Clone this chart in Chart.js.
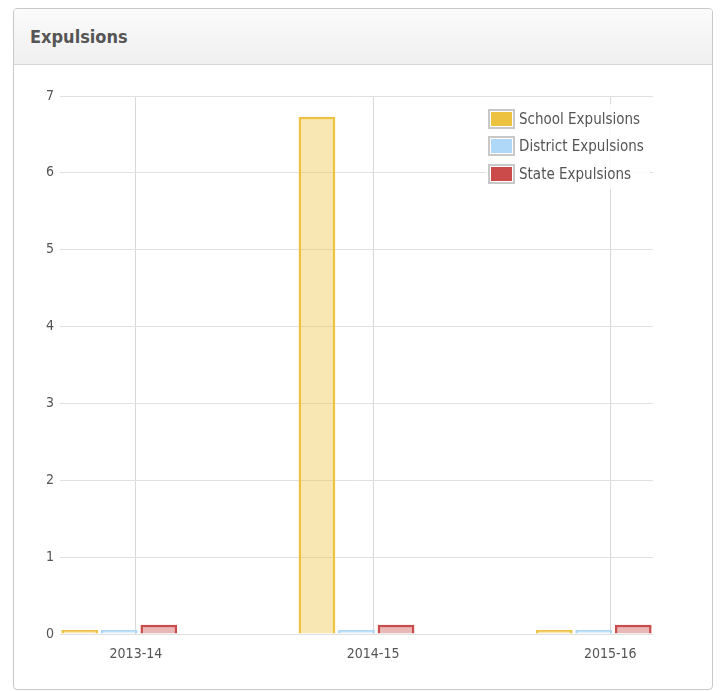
<!DOCTYPE html>
<html>
<head>
<meta charset="utf-8">
<script src="https://cdn.jsdelivr.net/npm/chart.js@4.4.1/dist/chart.umd.min.js"></script>
<style>
  body { margin: 0; background: #fff; font-family: "DejaVu Sans Condensed", "DejaVu Sans", sans-serif; }
  .panel { position: absolute; left: 13px; top: 8px; width: 698px; height: 680px; border: 1px solid #c8c8c8; border-radius: 4px; background: #fff; overflow: hidden; }
  .panel-head { height: 55px; border-bottom: 1px solid #d6d6d6; background: linear-gradient(#fbfbfb, #efefef); }
  .panel-head h3 { margin: 0; padding: 17px 0 0 16px; font-size: 18px; font-weight: bold; color: #555; line-height: 22px; }
  .chart-box { position: absolute; left: 0; top: 56px; width: 698px; height: 624px; }
  #legend { position: absolute; left: 472px; top: 95px; background: rgba(255,255,255,0.85); padding: 1px 6px 1px 2px; }
  .leg-row { display: flex; align-items: center; height: 27.5px; }
  .leg-box { width: 21px; height: 14px; border: 2px solid #c8c8c8; padding: 1px; background: #fff; margin-right: 4px; }
  .leg-box div { width: 100%; height: 100%; }
  .leg-text { font-size: 15px; color: #545454; }
</style>
</head>
<body>
<div class="panel">
  <div class="panel-head"><h3>Expulsions</h3></div>
  <div class="chart-box"><canvas id="chart"></canvas></div>
  <div id="legend"></div>
</div>
<script>
const categories = ["2013-14", "2014-15", "2015-16"];
const seriesNames = ["School Expulsions", "District Expulsions", "State Expulsions"];
const schoolValues = [0, 6.73, 0];
const districtValues = [0, 0, 0];
const stateValues = [0.12, 0.12, 0.12];
const yTicks = [0, 1, 2, 3, 4, 5, 6, 7];
const seriesColors = ["#edc240", "#afd8f8", "#cb4b4b"];
const seriesFills = ["rgba(237,194,64,0.4)", "rgba(175,216,248,0.4)", "rgba(203,75,75,0.4)"];

const labelShift = 0.07; // flot puts the tick a bit right of the bar group centre

function toPoints(values) {
  return values.map((v, i) => ({ x: i, y: v }));
}

const allValues = [schoolValues, districtValues, stateValues];
const datasets = allValues.map((vals, i) => ({
  label: seriesNames[i],
  data: toPoints(vals),
  backgroundColor: seriesFills[i],
  borderColor: seriesColors[i],
  borderWidth: 2.5,
  minBarLength: 4,
  categoryPercentage: 0.5,
  barPercentage: 0.93
}));

const tickFont = { family: '"DejaVu Sans Condensed", "DejaVu Sans", sans-serif', size: 14 };

const ctx = document.getElementById("chart").getContext("2d");
const chart = new Chart(ctx, {
  type: "bar",
  data: { datasets: datasets },
  options: {
    responsive: true,
    maintainAspectRatio: false,
    animation: false,
    layout: { padding: { top: 31, right: 59, left: 0, bottom: 0 } },
    plugins: { legend: { display: false }, tooltip: { enabled: false } },
    scales: {
      x: {
        type: "linear",
        min: -0.25,
        max: 2.25,
        offset: false,
        afterBuildTicks: scale => {
          scale.ticks = categories.map((c, i) => ({ value: i + labelShift }));
        },
        ticks: {
          callback: (value, index) => categories[index],
          color: "#545454",
          font: tickFont,
          padding: 12,
          maxRotation: 0
        },
        afterFit: scale => { scale.height = 55; },
        grid: { color: "#d8d8d8", drawTicks: false, offset: false },
        border: { display: false }
      },
      y: {
        min: 0,
        max: 7,
        afterBuildTicks: scale => {
          scale.ticks = yTicks.map(v => ({ value: v }));
        },
        ticks: { color: "#545454", font: tickFont, padding: 6 },
        afterFit: scale => { scale.width = 46; },
        grid: { color: "#e0e0e0", drawTicks: false },
        border: { display: false }
      }
    }
  }
});

// legend drawn as html inside the plot, like the original
const legend = document.getElementById("legend");
seriesNames.forEach((name, i) => {
  const row = document.createElement("div");
  row.className = "leg-row";
  row.innerHTML = `<div class="leg-box"><div style="background:${seriesColors[i]}"></div></div><span class="leg-text">${name}</span>`;
  legend.appendChild(row);
});
</script>
</body>
</html>
